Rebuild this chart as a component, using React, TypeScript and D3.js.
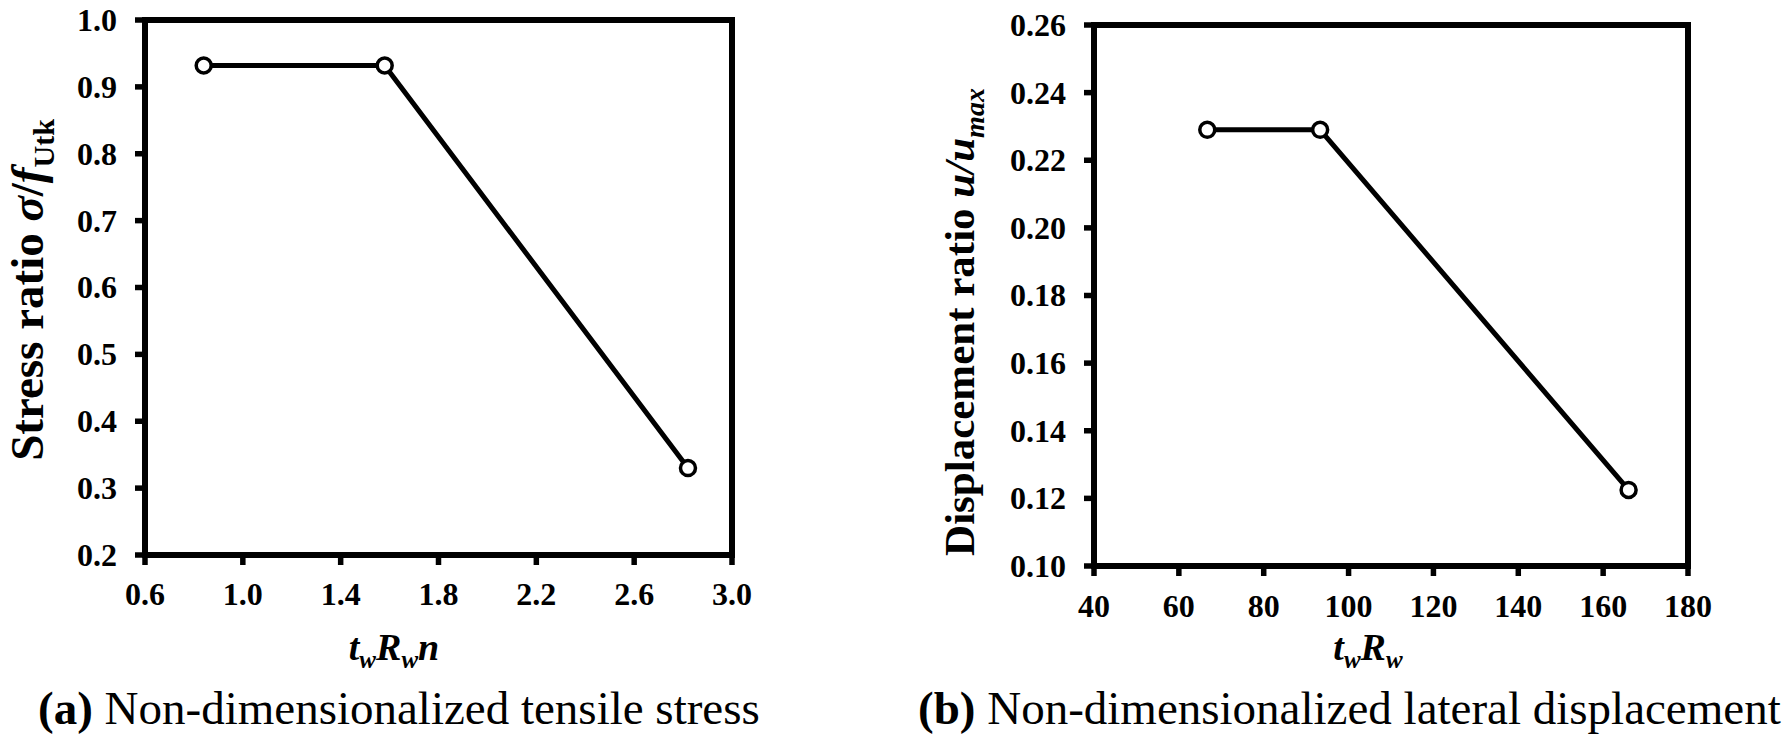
import React from "react";
import * as d3 from "d3";

// ---- Data ----
const stressX = [0.84, 1.58, 2.82];
const stressY = [0.932, 0.932, 0.33];
const stressXTicks = [0.6, 1.0, 1.4, 1.8, 2.2, 2.6, 3.0];
const stressYTicks = [0.2, 0.3, 0.4, 0.5, 0.6, 0.7, 0.8, 0.9, 1.0];

const dispX = [66.7, 93.3, 166];
const dispY = [0.229, 0.229, 0.1225];
const dispXTicks = [40, 60, 80, 100, 120, 140, 160, 180];
const dispYTicks = [0.1, 0.12, 0.14, 0.16, 0.18, 0.2, 0.22, 0.24, 0.26];

const FONT = "'Liberation Serif', 'Times New Roman', Times, serif";

type PanelProps = {
  xs: number[];
  ys: number[];
  xDomain: [number, number];
  yDomain: [number, number];
  xTicks: number[];
  yTicks: number[];
  xFmt: (v: number) => string;
  yFmt: (v: number) => string;
  box: { x0: number; x1: number; y0: number; y1: number };
  xLabelBaseline: number;
  yLabelGap: number;
};

function Panel(p: PanelProps) {
  const x = d3.scaleLinear().domain(p.xDomain).range([p.box.x0, p.box.x1]);
  const y = d3.scaleLinear().domain(p.yDomain).range([p.box.y1, p.box.y0]);
  const pts = p.xs.map((v, i) => [x(v), y(p.ys[i])] as [number, number]);
  const line = d3.line()(pts) || "";
  const tickLen = 10;
  return (
    <g>
      {p.yTicks.map((t) => (
        <g key={"y" + t}>
          <line x1={p.box.x0 - tickLen} x2={p.box.x0} y1={y(t)} y2={y(t)} stroke="#000" strokeWidth={5.5} />
          <text
            x={p.box.x0 - p.yLabelGap}
            y={y(t)}
            dy="0.34em"
            textAnchor="end"
            fontFamily={FONT}
            fontWeight="bold"
            fontSize={32}
          >
            {p.yFmt(t)}
          </text>
        </g>
      ))}
      {p.xTicks.map((t) => (
        <g key={"x" + t}>
          <line x1={x(t)} x2={x(t)} y1={p.box.y1} y2={p.box.y1 + tickLen} stroke="#000" strokeWidth={5.5} />
          <text
            x={x(t)}
            y={p.xLabelBaseline}
            textAnchor="middle"
            fontFamily={FONT}
            fontWeight="bold"
            fontSize={32}
          >
            {p.xFmt(t)}
          </text>
        </g>
      ))}
      <rect
        x={p.box.x0}
        y={p.box.y0}
        width={p.box.x1 - p.box.x0}
        height={p.box.y1 - p.box.y0}
        fill="none"
        stroke="#000"
        strokeWidth={6}
      />
      <path d={line} fill="none" stroke="#000" strokeWidth={5} strokeLinejoin="round" />
      {pts.map((q, i) => (
        <circle key={i} cx={q[0]} cy={q[1]} r={7.5} fill="#fff" stroke="#000" strokeWidth={3.5} />
      ))}
    </g>
  );
}

export default function App() {
  const f1 = d3.format(".1f");
  const f2 = d3.format(".2f");
  const f0 = d3.format("d");
  return (
    <svg
      width={1786}
      height={741}
      style={{ position: "absolute", left: 0, top: 0, background: "#fff" }}
    >
      <rect x={0} y={0} width={1786} height={741} fill="#fff" />
      <Panel
        xs={stressX}
        ys={stressY}
        xDomain={[0.6, 3.0]}
        yDomain={[0.2, 1.0]}
        xTicks={stressXTicks}
        yTicks={stressYTicks}
        xFmt={f1}
        yFmt={f1}
        box={{ x0: 145, x1: 732, y0: 20, y1: 555 }}
        xLabelBaseline={605}
        yLabelGap={28}
      />
      <Panel
        xs={dispX}
        ys={dispY}
        xDomain={[40, 180]}
        yDomain={[0.1, 0.26]}
        xTicks={dispXTicks}
        yTicks={dispYTicks}
        xFmt={f0}
        yFmt={f2}
        box={{ x0: 1094, x1: 1688, y0: 25, y1: 566 }}
        xLabelBaseline={617}
        yLabelGap={28}
      />

      {/* Y axis titles */}
      <text
        transform="translate(43,290) rotate(-90)"
        textAnchor="middle"
        fontFamily={FONT}
        fontWeight="bold"
        fontSize={47}
      >
        {"Stress ratio "}
        <tspan fontStyle="italic">σ</tspan>
        {"/"}
        <tspan fontStyle="italic">f</tspan>
        <tspan dy={11} fontSize={30}>Utk</tspan>
      </text>
      <text
        transform="translate(974,322) rotate(-90)"
        textAnchor="middle"
        fontFamily={FONT}
        fontWeight="bold"
        fontSize={43}
      >
        {"Displacement ratio "}
        <tspan fontStyle="italic">u/u</tspan>
        <tspan dy={10} fontSize={28} fontStyle="italic">max</tspan>
      </text>

      {/* X axis titles */}
      <text x={394} y={660} textAnchor="middle" fontFamily={FONT} fontWeight="bold" fontStyle="italic" fontSize={38}>
        {"t"}
        <tspan dy={8} fontSize={25}>w</tspan>
        <tspan dy={-8}>R</tspan>
        <tspan dy={8} fontSize={25}>w</tspan>
        <tspan dy={-8}>n</tspan>
      </text>
      <text x={1368} y={660} textAnchor="middle" fontFamily={FONT} fontWeight="bold" fontStyle="italic" fontSize={38}>
        {"t"}
        <tspan dy={8} fontSize={25}>w</tspan>
        <tspan dy={-8}>R</tspan>
        <tspan dy={8} fontSize={25}>w</tspan>
      </text>

      {/* Captions */}
      <text x={38} y={724} fontFamily={FONT} fontSize={47}>
        <tspan fontWeight="bold">(a)</tspan>
        {" Non-dimensionalized tensile stress"}
      </text>
      <text x={918} y={724} fontFamily={FONT} fontSize={47}>
        <tspan fontWeight="bold">(b)</tspan>
        {" Non-dimensionalized lateral displacement"}
      </text>
    </svg>
  );
}
